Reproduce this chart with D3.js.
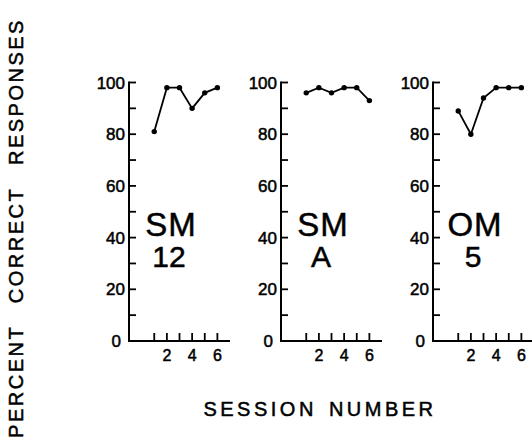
<!DOCTYPE html>
<html>
<head>
<meta charset="utf-8">
<script src="https://cdn.jsdelivr.net/npm/d3@7"></script>
<style>
  body { margin: 0; background: #fff; }
  svg text { font-family: "Liberation Sans", Arial, sans-serif; fill: #000; stroke: #000; stroke-width: 0.5px; }
</style>
</head>
<body>
<div id="chart"></div>
<script>
// data
var sessions = [1, 2, 3, 4, 5, 6];
var panelNames = [["SM", "12"], ["SM", "A"], ["OM", "5"]];
var sm12 = [81, 98, 98, 90, 96, 98];
var smA = [96, 98, 96, 98, 98, 93];
var om5 = [89, 80, 94, 98, 98, 98];
var yTickLabels = [0, 20, 40, 60, 80, 100];
var xTickLabels = [2, 4, 6];

var WIDTH = 532, HEIGHT = 443;
var series = [sm12, smA, om5];

var svg = d3.select("#chart").append("svg")
    .attr("width", WIDTH)
    .attr("height", HEIGHT);

var y = d3.scaleLinear().domain([0, 100]).range([341, 82.5]);

function drawPanel(i) {
    var left = 129 + i * 152;
    var x = d3.scaleLinear().domain([-1, 7]).range([left, left + 101]);
    var g = svg.append("g");

    // y axis, ticks pointing right
    g.append("line")
        .attr("x1", left).attr("x2", left)
        .attr("y1", y(100) - 1).attr("y2", y(0))
        .attr("stroke", "#000").attr("stroke-width", 2);
    g.selectAll(".ytick")
        .data(d3.range(10, 101, 10))
        .enter().append("line")
        .attr("x1", left).attr("x2", left + 7)
        .attr("y1", function (d) { return y(d); })
        .attr("y2", function (d) { return y(d); })
        .attr("stroke", "#000").attr("stroke-width", 1.8);
    g.selectAll(".ylab")
        .data(yTickLabels)
        .enter().append("text")
        .attr("x", function (d) { return d === 0 ? left - 8 : left - 4; })
        .attr("y", function (d) { return y(d) + 6; })
        .attr("text-anchor", "end")
        .style("font-size", "17px")
        .text(function (d) { return d; });

    // x axis, ticks pointing up
    g.append("line")
        .attr("x1", left - 1).attr("x2", x(7))
        .attr("y1", y(0)).attr("y2", y(0))
        .attr("stroke", "#000").attr("stroke-width", 2);
    g.selectAll(".xtick")
        .data(sessions)
        .enter().append("line")
        .attr("x1", function (d) { return x(d); })
        .attr("x2", function (d) { return x(d); })
        .attr("y1", y(0)).attr("y2", y(0) - 8)
        .attr("stroke", "#000").attr("stroke-width", 1.8);
    g.selectAll(".xlab")
        .data(xTickLabels)
        .enter().append("text")
        .attr("x", function (d) { return x(d); })
        .attr("y", 361)
        .attr("text-anchor", "middle")
        .style("font-size", "16px")
        .text(function (d) { return d; });

    // the line + dots
    var line = d3.line()
        .x(function (d, j) { return x(sessions[j]); })
        .y(function (d) { return y(d); });
    g.append("path")
        .datum(series[i])
        .attr("d", line)
        .attr("fill", "none")
        .attr("stroke", "#000")
        .attr("stroke-width", 1.8);
    g.selectAll("circle")
        .data(series[i])
        .enter().append("circle")
        .attr("cx", function (d, j) { return x(sessions[j]); })
        .attr("cy", function (d) { return y(d); })
        .attr("r", 2.7)
        .attr("fill", "#000");

    // subject label
    g.append("text")
        .attr("x", left + 42).attr("y", 236)
        .attr("text-anchor", "middle")
        .style("font-size", "33px")
        .style("letter-spacing", "1px")
        .text(panelNames[i][0]);
    g.append("text")
        .attr("x", left + 40).attr("y", 267)
        .attr("text-anchor", "middle")
        .style("font-size", "30px")
        .text(panelNames[i][1]);
}

for (var i = 0; i < 3; i++) drawPanel(i);

// axis titles
svg.append("text")
    .attr("transform", "translate(23,228) rotate(-90)")
    .attr("text-anchor", "middle")
    .style("font-size", "20px")
    .style("letter-spacing", "2.5px")
    .style("word-spacing", "14px")
    .text("PERCENT CORRECT RESPONSES");

svg.append("text")
    .attr("x", 320).attr("y", 416)
    .attr("text-anchor", "middle")
    .style("font-size", "20px")
    .style("letter-spacing", "3.5px")
    .style("word-spacing", "3px")
    .text("SESSION NUMBER");
</script>
</body>
</html>
